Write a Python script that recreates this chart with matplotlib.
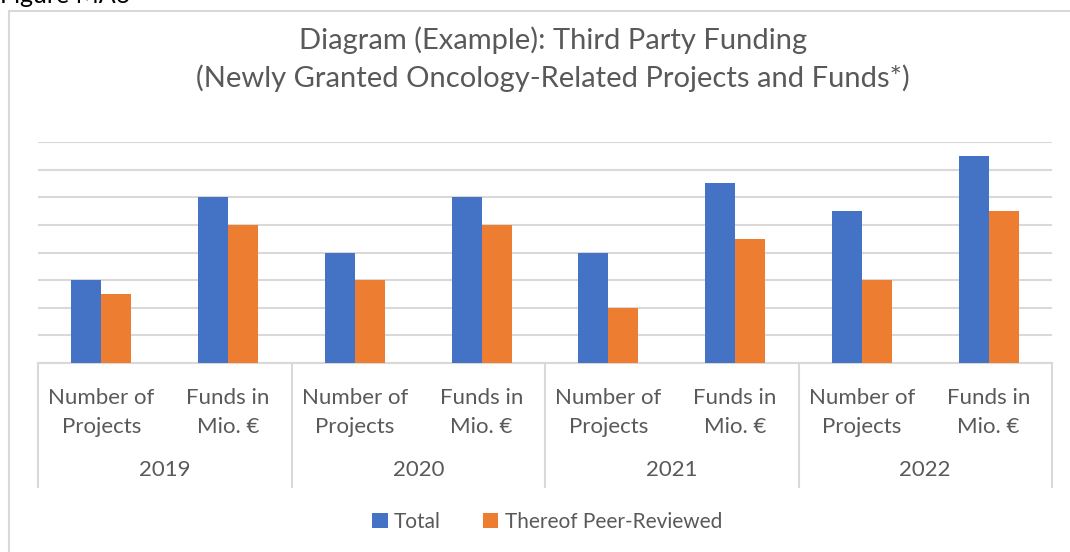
import numpy as np
import matplotlib.pyplot as plt
from matplotlib.patches import Rectangle

years = ["2019", "2020", "2021", "2022"]
measures = ["Number of\nProjects", "Funds in\nMio. €"]
total = [3, 6, 4, 6, 4, 6.5, 5.5, 7.5]
peer_reviewed = [2.5, 5, 3, 5, 2, 4.5, 3, 5.5]
series_names = ["Total", "Thereof Peer-Reviewed"]

blue = "#4472C4"
orange = "#ED7D31"
grid_col = "#D9D9D9"
txt = "#595959"

plt.rcParams['font.family'] = ['Lato', 'DejaVu Sans']

fig = plt.figure(figsize=(10.7, 5.52), dpi=100)
W, H = 1070, 552

# outer frame of the chart object
fig.patches.append(Rectangle((9 / W, -0.1), 1.2, 1 - 11 / H + 0.1, transform=fig.transFigure,
                             fill=False, edgecolor=grid_col, lw=1.5))
fig.text(0.0, 1 - 3 / H, "Figure MA6", fontsize=18, color="black", va="baseline")

fig.text(553 / W, 1 - 40 / H, "Diagram (Example): Third Party Funding", ha="center", va="center",
         fontsize=21, color=txt)
fig.text(553 / W, 1 - 78 / H, "(Newly Granted Oncology-Related Projects and Funds*)", ha="center",
         va="center", fontsize=21, color=txt)

ax = fig.add_axes([38 / W, (H - 363) / H, (1052 - 38) / W, (363 - 142) / H])
x = np.arange(len(total))
w = 0.237
ax.bar(x - w / 2, total, w, color=blue, label=series_names[0], zorder=3)
ax.bar(x + w / 2, peer_reviewed, w, color=orange, label=series_names[1], zorder=3)

ax.set_xlim(-0.5, len(total) - 0.5)
ax.set_ylim(0, 8)
ax.set_yticks(np.arange(0, 9, 1))
ax.yaxis.grid(True, color=grid_col, lw=1.5, zorder=0)
ax.tick_params(axis="y", left=False, labelleft=False)
for s in ["top", "right", "left"]:
    ax.spines[s].set_visible(False)
ax.spines["bottom"].set_color(grid_col)
ax.spines["bottom"].set_linewidth(1.5)

ax.set_xticks(x)
ax.set_xticklabels(measures * len(years), fontsize=16, color=txt, linespacing=1.55)
ax.tick_params(axis="x", length=0, pad=18)

tr = ax.get_xaxis_transform()
depth = -(487 - 363) / (363 - 142)
for b in np.arange(-0.5, len(total), 2):
    ax.plot([b, b], [0, depth], transform=tr, color=grid_col, lw=1.5, clip_on=False)
for i, yr in enumerate(years):
    ax.text(2 * i + 0.5, -(470 - 363) / (363 - 142), yr, transform=tr, ha="center", va="center",
            fontsize=16, color=txt)

ax.legend(loc="center", bbox_to_anchor=(547 / W, 1 - 522 / H), bbox_transform=fig.transFigure,
          ncol=2, frameon=False, fontsize=15, labelcolor=txt, handlelength=0.75, handleheight=0.75,
          handletextpad=0.3, columnspacing=2.0)

fig.savefig("out.png", dpi=100)
